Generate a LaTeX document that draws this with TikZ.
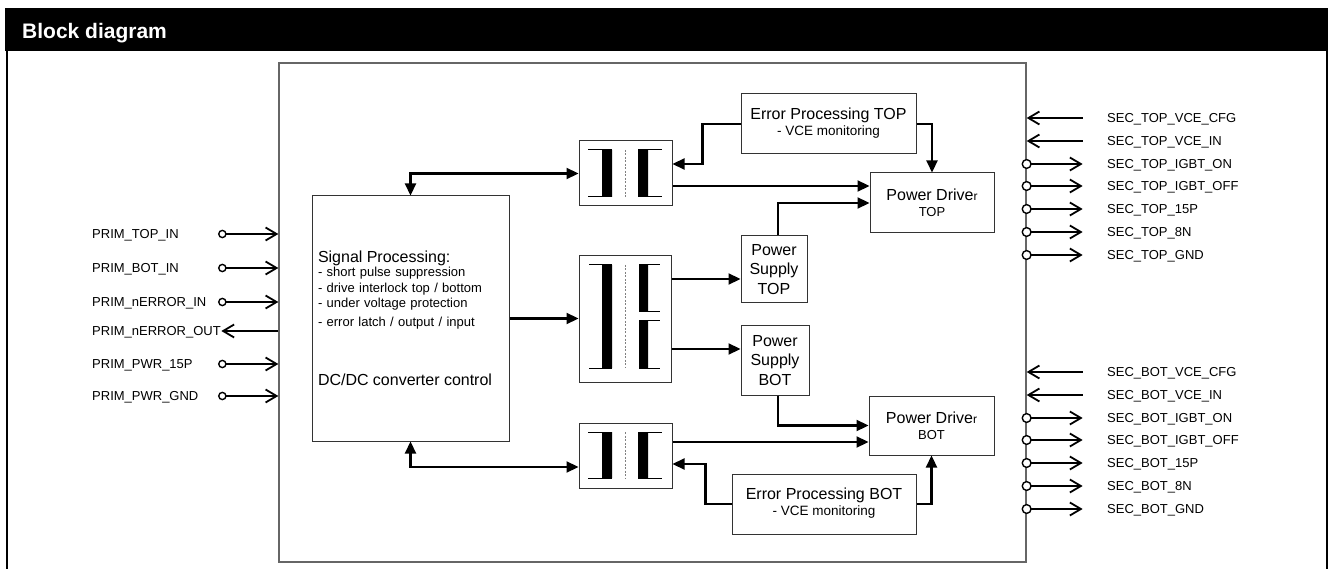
\documentclass[tikz,border=0pt]{standalone}
\usepackage{fontspec}
\setmainfont{Liberation Sans}
\usetikzlibrary{arrows.meta}

\begin{document}
\begin{tikzpicture}[x=1pt, y=-1pt,
    >={Triangle[length=12pt,width=11pt]},
    blk/.style={draw=black!80, line width=1pt, inner sep=0pt, align=center,
      font=\fontsize{16}{16}\selectfont},
    flow/.style={line width=2.2pt},
    pinlbl/.style={anchor=west, inner sep=0pt, text height=9.3pt, text depth=0pt,
      font=\fontsize{13}{15}\selectfont},
    outpin/.style={-{Straight Barb[length=11pt,width=13pt]}, line width=1.8pt},
    inpin/.style={{Straight Barb[length=11pt,width=13pt]}-, line width=1.8pt},
    ring/.style={draw, fill=white, line width=1.4pt},
    coil/.style={line width=1pt},
    core/.style={gray, line width=1pt, dash pattern=on 2pt off 1.5pt}]
  \useasboundingbox (0,0) rectangle (1328,569);
  % header and frame
  \fill (5,8) rectangle (1328,51);
  \node[anchor=west, text=white, inner sep=0pt, text height=15pt, text depth=0pt,
    font=\bfseries\fontsize{21}{21}\selectfont] (title) at (22,31) {Block diagram};
  \draw[line width=2.3pt] (6.8,51) -- (6.8,569) (1326.7,51) -- (1326.7,569);
  \node[draw=black!60, line width=1.3pt, inner sep=0pt, minimum width=747pt,
    minimum height=499pt] (unit) at (652.5,312.5) {};

  % blocks
  \node[blk, minimum width=197pt, minimum height=245pt, text width=185pt, align=left,
    font=\fontsize{13}{15.5}\selectfont] (sig) at (410.5,318.5)
    {{\fontsize{16}{16}\selectfont Signal Processing:}\\[-1.5pt]
     - short pulse suppression\\
     - drive interlock top / bottom\\
     - under voltage protection\\[3pt]
     - error latch / output / input\\[43.5pt]
     {\fontsize{16}{16}\selectfont DC/DC converter control}};
  \node[blk, minimum width=93pt, minimum height=65pt] (xfT) at (625.5,173.5) {};
  \node[blk, minimum width=92pt, minimum height=126pt] (xfM) at (625,319) {};
  \node[blk, minimum width=93pt, minimum height=65pt] (xfB) at (625.5,455.5) {};
  \node[blk, minimum width=175pt, minimum height=60pt, text depth=4pt] (epT) at (828.5,124)
    {Error Processing TOP\\{\fontsize{13.5}{16}\selectfont - VCE monitoring}};
  \node[blk, minimum width=184pt, minimum height=60pt, text depth=4pt] (epB) at (824,504)
    {Error Processing BOT\\{\fontsize{13.5}{16}\selectfont - VCE monitoring}};
  \node[blk, minimum width=124pt, minimum height=60pt] (pdT) at (932,203)
    {Power Drive{\fontsize{12}{12}\selectfont r}\\{\fontsize{13}{16}\selectfont TOP}};
  \node[blk, minimum width=125pt, minimum height=59pt] (pdB) at (931.5,425.5)
    {Power Drive{\fontsize{12}{12}\selectfont r}\\{\fontsize{13}{16}\selectfont BOT}};
  \node[blk, minimum width=66pt, minimum height=67pt,
    font=\fontsize{16}{19.5}\selectfont] (psT) at (774,269.5) {Power\\Supply\\TOP};
  \node[blk, minimum width=68pt, minimum height=69pt,
    font=\fontsize{16}{19.5}\selectfont] (psB) at (775,360.5) {Power\\Supply\\BOT};

  % transformer windings
  \foreach \t/\u in {150/197, 432/478} {
    \fill (602,\t) rectangle (612,\u) (638,\t) rectangle (648,\u);
    \draw[coil] (588,\t) -- (612,\t) (588,\u) -- (612,\u)
      (638,\t) -- (662,\t) (638,\u) -- (662,\u);
    \draw[core] (625,\t) -- (625,\u);
  }
  \fill (602,265) rectangle (612,368) (639,265) rectangle (648,312)
    (639,321) rectangle (648,368);
  \draw[coil] (589,265) -- (612,265) (589,368) -- (612,368)
    (639,265) -- (660,265) (639,312) -- (660,312)
    (639,321) -- (660,321) (639,368) -- (660,368);
  \draw[core] (625,265) -- (625,368);

  % connections
  \draw[flow,<->] (sig.north) |- (xfT.west);
  \draw[flow,<->] (sig.south) |- ([yshift=-11.5pt]xfB.west);
  \draw[flow,->] (sig.east) -- (sig.east -| xfM.west);
  \draw[flow,->] ([yshift=-12.5pt]xfT.east) -- ([yshift=17pt]pdT.west);
  \draw[flow,->] ([yshift=40pt]xfM.east) -- ([yshift=-9.5pt]psT.west);
  \draw[flow,->] ([yshift=-30pt]xfM.east) -- ([yshift=11.5pt]psB.west);
  \draw[flow,->] ([yshift=13.5pt]xfB.east) -- ([yshift=-16.5pt]pdB.west);
  \draw[flow,->] ([xshift=4pt]psT.north) |- (pdT.west);
  \draw[flow,->] ([xshift=3pt]psB.south) |- (pdB.west);
  \draw[flow,->] (epT.west) -- ++(-38,0) |- ([yshift=9.5pt]xfT.east);
  \draw[flow,->] (epT.east) -| (pdT.north);
  \draw[flow,->] (epB.west) -- ++(-26,0) |- ([yshift=-8.5pt]xfB.east);
  \draw[flow,->] (epB.east) -| (pdB.south);

  % primary side pins
  \foreach \lbl/\y in {PRIM\_TOP\_IN/234, PRIM\_BOT\_IN/268, PRIM\_nERROR\_IN/302,
      PRIM\_PWR\_15P/364, PRIM\_PWR\_GND/396} {
    \node[pinlbl] (l\y) at (92,\y) {\lbl};
    \coordinate (le\y) at (unit.west |- l\y);
    \draw[outpin] ([xshift=-56pt]le\y) -- (le\y);
    \draw[ring] ([xshift=-56pt]le\y) circle (3.6pt);
  }
  \node[pinlbl] (l331) at (92,331) {PRIM\_nERROR\_OUT};
  \coordinate (le331) at (unit.west |- l331);
  \draw[outpin] (le331) -- ([xshift=-57pt]le331);

  % secondary side pins
  \foreach \lbl/\y in {SEC\_TOP\_VCE\_CFG/118, SEC\_TOP\_VCE\_IN/141,
      SEC\_BOT\_VCE\_CFG/372, SEC\_BOT\_VCE\_IN/395} {
    \node[pinlbl] (r\y) at (1107,\y) {\lbl};
    \coordinate (re\y) at (unit.east |- r\y);
    \draw[inpin] (re\y) -- ([xshift=56pt]re\y);
  }
  \foreach \lbl/\y in {SEC\_TOP\_IGBT\_ON/164, SEC\_TOP\_IGBT\_OFF/186,
      SEC\_TOP\_15P/209, SEC\_TOP\_8N/232, SEC\_TOP\_GND/255,
      SEC\_BOT\_IGBT\_ON/418, SEC\_BOT\_IGBT\_OFF/440,
      SEC\_BOT\_15P/463, SEC\_BOT\_8N/486, SEC\_BOT\_GND/509} {
    \node[pinlbl] (r\y) at (1107,\y) {\lbl};
    \coordinate (re\y) at (unit.east |- r\y);
    \draw[outpin] (re\y) -- ([xshift=56pt]re\y);
    \draw[ring] (re\y) circle (4.4pt);
  }
\end{tikzpicture}
\end{document}
